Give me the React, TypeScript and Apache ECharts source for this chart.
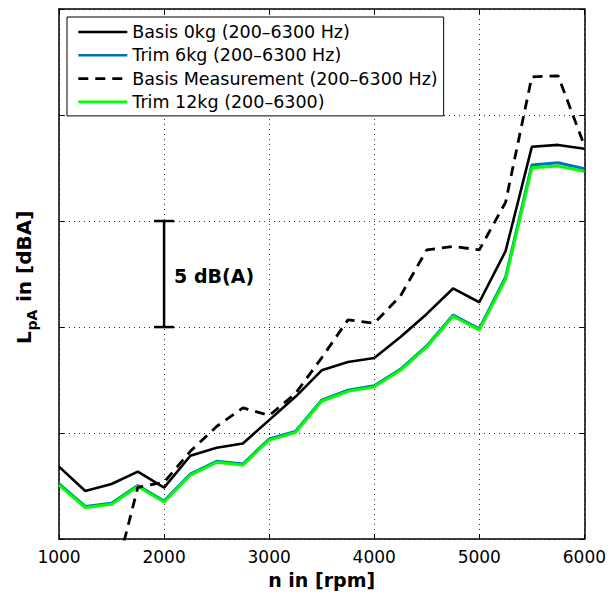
import React, { useEffect, useRef } from "react";
import * as echarts from "echarts";

const rpm = [1000, 1250, 1500, 1750, 2000, 2250, 2500, 2750, 3000, 3250, 3500, 3750, 4000, 4250, 4500, 4750, 5000, 5250, 5500, 5750, 6000];
const basis0kg = [58.42, 57.27, 57.6, 58.18, 57.43, 58.93, 59.31, 59.51, 60.61, 61.71, 62.96, 63.35, 63.54, 64.53, 65.62, 66.82, 66.17, 68.58, 73.5, 73.59, 73.41];
const trim6kg = [57.6, 56.54, 56.69, 57.53, 56.8, 58.07, 58.67, 58.54, 59.72, 60.08, 61.55, 62.02, 62.23, 63.01, 64.11, 65.56, 64.92, 67.35, 72.64, 72.75, 72.47];
const basisMeasurement = [null, null, 52.57, 57.44, 57.68, 59.14, 60.31, 61.19, 60.83, 61.86, 63.55, 65.34, 65.18, 66.47, 68.64, 68.8, 68.64, 70.88, 76.8, 76.85, 73.56];
const trim12kg = [57.55, 56.49, 56.64, 57.48, 56.75, 58.02, 58.62, 58.49, 59.67, 60.03, 61.5, 61.97, 62.18, 62.96, 64.06, 65.51, 64.87, 67.26, 72.51, 72.59, 72.35];

const seriesNames = [
  "Basis 0kg (200–6300 Hz)",
  "Trim 6kg (200–6300 Hz)",
  "Basis Measurement (200–6300 Hz)",
  "Trim 12kg (200–6300)",
];
const xTicks = { min: 1000, max: 6000, interval: 1000 };
const yRange = { min: 55, max: 80, interval: 5 };
const scaleBar = [[2000, 65, 70]];
const scaleBarLabel = "5 dB(A)";

const FONT = "DejaVu Sans";

function pairs(vals: (number | null)[]) {
  const out: number[][] = [];
  vals.forEach((v, i) => {
    if (v !== null) out.push([rpm[i], v]);
  });
  return out;
}

export default function App() {
  const ref = useRef<HTMLDivElement>(null);
  useEffect(() => {
    if (!ref.current) return;
    const chart = echarts.init(ref.current, null, { renderer: "svg" });
    const axisLine = { show: true, onZero: false, lineStyle: { color: "#000", width: 1.5 } };
    const axisTick = { show: true, inside: true, length: 5, lineStyle: { color: "#000", width: 1 } };
    const split = { show: true, lineStyle: { color: "#333", width: 1, type: [1, 4] as any } };
    chart.setOption({
      animation: false,
      backgroundColor: "#fff",
      grid: { left: 59, right: 21, top: 9, bottom: 53, containLabel: false },
      legend: {
        data: seriesNames,
        orient: "vertical",
        left: 67,
        top: 17,
        itemWidth: 49,
        itemHeight: 14,
        itemGap: 5.3,
        padding: [6, 6, 5, 10],
        borderColor: "#000",
        borderWidth: 1,
        backgroundColor: "#fff",
        borderRadius: 0,
        itemStyle: { opacity: 0 },
        lineStyle: { width: 2.6 },
        textStyle: { fontFamily: FONT, fontSize: 17.5, color: "#000", lineHeight: 18 },
      },
      xAxis: [
        {
          type: "value",
          position: "bottom",
          ...xTicks,
          axisLine,
          axisTick,
          axisLabel: { fontFamily: FONT, fontSize: 17, color: "#000", margin: 9, formatter: (v: number) => String(v) },
          splitLine: split,
          name: "n in [rpm]",
          nameLocation: "middle",
          nameGap: 30,
          nameTextStyle: { fontFamily: FONT, fontSize: 19, fontWeight: "bold", color: "#000" },
        },
        {
          type: "value",
          position: "top",
          ...xTicks,
          axisLine,
          axisTick,
          axisLabel: { show: false },
          splitLine: { show: false },
        },
      ],
      yAxis: [
        {
          type: "value",
          position: "left",
          ...yRange,
          axisLine,
          axisTick,
          axisLabel: { show: false },
          splitLine: split,
        },
        {
          type: "value",
          position: "right",
          ...yRange,
          axisLine,
          axisTick,
          axisLabel: { show: false },
          splitLine: { show: false },
        },
      ],
      series: [
        {
          name: seriesNames[0],
          type: "line",
          data: pairs(basis0kg),
          symbol: "none",
          lineStyle: { color: "#000", width: 2.6 },
          itemStyle: { color: "#000" },
          z: 3,
        },
        {
          name: seriesNames[1],
          type: "line",
          data: pairs(trim6kg),
          symbol: "none",
          lineStyle: { color: "#0072BD", width: 3 },
          itemStyle: { color: "#0072BD" },
          z: 2,
        },
        {
          name: seriesNames[2],
          type: "line",
          data: pairs(basisMeasurement),
          symbol: "none",
          lineStyle: { color: "#000", width: 2.8, type: [10, 7] },
          itemStyle: { color: "#000" },
          z: 4,
        },
        {
          name: seriesNames[3],
          type: "line",
          data: pairs(trim12kg),
          symbol: "none",
          lineStyle: { color: "#00FF00", width: 3 },
          itemStyle: { color: "#00FF00" },
          z: 2,
        },
        {
          type: "custom",
          name: "scale",
          data: scaleBar,
          z: 5,
          renderItem: (params: any, api: any) => {
            const x = api.value(0);
            const lo = api.coord([x, api.value(1)]);
            const hi = api.coord([x, api.value(2)]);
            const st = { stroke: "#000", lineWidth: 2.5 };
            return {
              type: "group",
              children: [
                { type: "line", shape: { x1: lo[0], y1: lo[1], x2: hi[0], y2: hi[1] }, style: st },
                { type: "line", shape: { x1: lo[0] - 10, y1: lo[1], x2: lo[0] + 10, y2: lo[1] }, style: st },
                { type: "line", shape: { x1: hi[0] - 10, y1: hi[1], x2: hi[0] + 10, y2: hi[1] }, style: st },
                {
                  type: "text",
                  x: lo[0] + 10,
                  y: (lo[1] + hi[1]) / 2 + 2,
                  style: {
                    text: scaleBarLabel,
                    fontFamily: FONT,
                    fontSize: 19,
                    fontWeight: "bold",
                    fill: "#000",
                    align: "left",
                    verticalAlign: "middle",
                  },
                },
              ],
            };
          },
        },
      ],
      graphic: [
        {
          type: "group",
          x: 24,
          y: 344,
          rotation: Math.PI / 2,
          children: [
            {
              type: "text",
              x: 0,
              y: 0,
              style: { text: "L", fontFamily: FONT, fontSize: 20, fontWeight: "bold", fill: "#000", align: "left", verticalAlign: "middle" },
            },
            {
              type: "text",
              x: 13.5,
              y: 7.5,
              style: { text: "pA", fontFamily: FONT, fontSize: 14, fontWeight: "bold", fill: "#000", align: "left", verticalAlign: "middle" },
            },
            {
              type: "text",
              x: 35,
              y: 0,
              style: { text: " in [dBA]", fontFamily: FONT, fontSize: 20, fontWeight: "bold", fill: "#000", align: "left", verticalAlign: "middle" },
            },
          ],
        },
      ],
    });
    return () => chart.dispose();
  }, []);
  return <div ref={ref} style={{ position: "absolute", left: 0, top: 0, width: 609, height: 594 }} />;
}
